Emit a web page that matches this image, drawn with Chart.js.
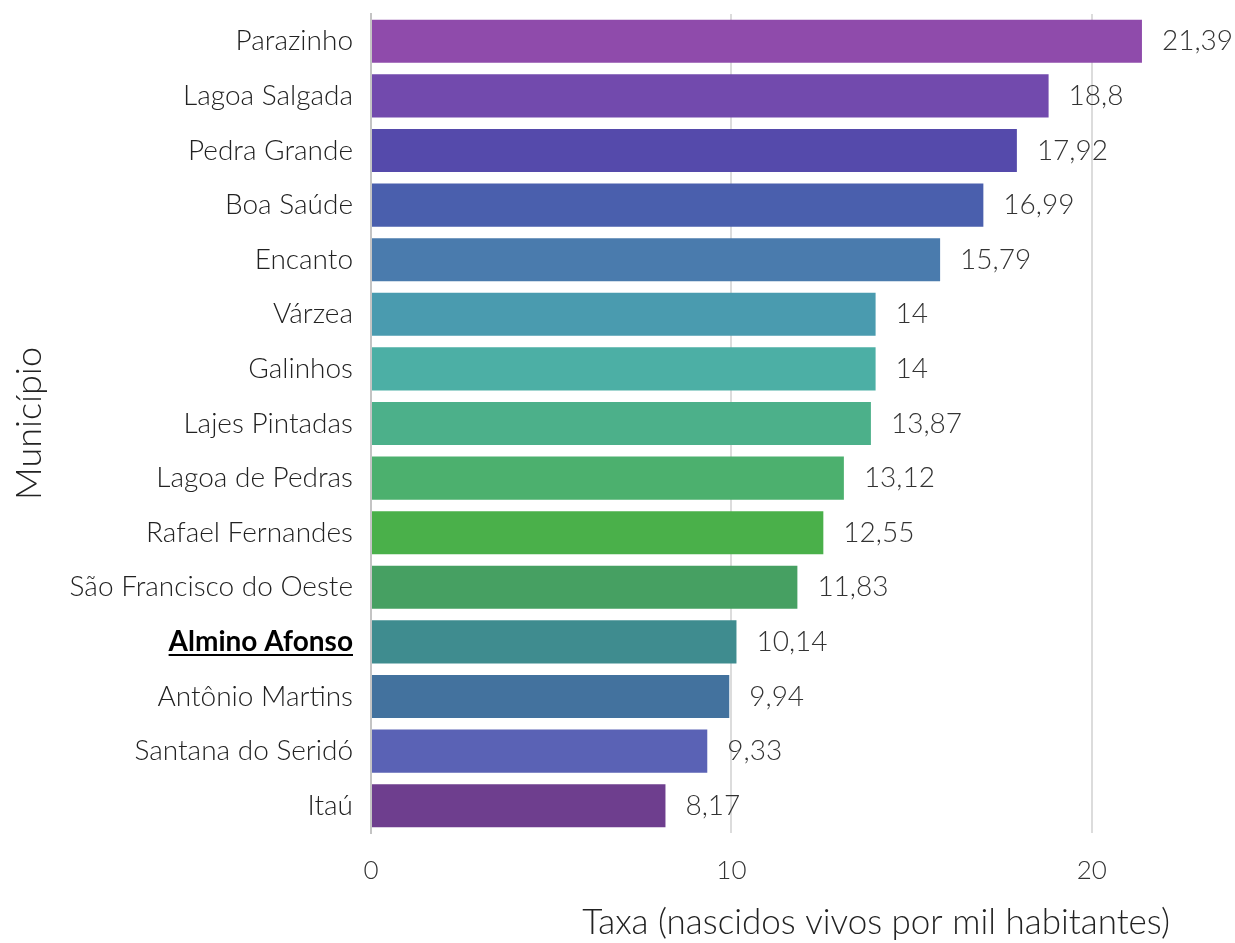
<!DOCTYPE html>
<html>
<head>
<meta charset="utf-8">
<script src="https://cdn.jsdelivr.net/npm/chart.js@4"></script>
<style>
  body { margin: 0; background: #fff; }
</style>
</head>
<body>
<canvas id="canva1" width="1235" height="943"></canvas>
<script>
// dados
const municipios = ["Parazinho", "Lagoa Salgada", "Pedra Grande", "Boa Saúde", "Encanto", "Várzea", "Galinhos",
    "Lajes Pintadas", "Lagoa de Pedras", "Rafael Fernandes", "São Francisco do Oeste", "Almino Afonso",
    "Antônio Martins", "Santana do Seridó", "Itaú"];
const taxas = [21.39, 18.8, 17.92, 16.99, 15.79, 14, 14, 13.87, 13.12, 12.55, 11.83, 10.14, 9.94, 9.33, 8.17];
const rotulos = ["21,39", "18,8", "17,92", "16,99", "15,79", "14", "14", "13,87", "13,12", "12,55", "11,83", "10,14", "9,94", "9,33", "8,17"];
const cores = ["#8f4bab", "#724aad", "#554aab", "#4a5fad", "#4a7bad", "#4a9baf", "#4cafa5", "#4cb08a",
    "#4cb06e", "#4ab04a", "#46a062", "#3f8c8f", "#43729e", "#5a62b5", "#6e3e8e"];
const destaque = "Almino Afonso";
const xTicks = [0, 10, 20];

const fonte = "'Lato Light', Lato";

window.onload = function(){
    let canva1 = document.getElementById("canva1").getContext("2d");

    let rotulosPlugin = {
        id: "rotulos",
        afterDatasetsDraw(chart){
            let ctx = chart.ctx;
            let meta = chart.getDatasetMeta(0);
            ctx.save();
            ctx.font = "300 28px " + fonte;
            ctx.fillStyle = "#333";
            ctx.textAlign = "left";
            ctx.textBaseline = "middle";
            meta.data.forEach(function(bar, i){
                ctx.fillText(rotulos[i], bar.x + 20, bar.y);
            });
            ctx.restore();
        },
        afterDraw(chart){
            let ctx = chart.ctx;
            let y = chart.scales.y;
            let i = municipios.indexOf(destaque);
            ctx.save();
            // sublinhado do destaque
            ctx.font = "700 28px Lato";
            let w = ctx.measureText(destaque).width;
            let xr = chart.chartArea.left - 18;
            let yy = y.getPixelForTick(i) + 13;
            ctx.strokeStyle = "#000";
            ctx.lineWidth = 2;
            ctx.beginPath();
            ctx.moveTo(xr - w, yy);
            ctx.lineTo(xr, yy);
            ctx.stroke();
            // titulo do eixo x
            ctx.font = "300 35px " + fonte;
            ctx.fillStyle = "#222";
            ctx.textAlign = "right";
            ctx.textBaseline = "middle";
            ctx.fillText("Taxa (nascidos vivos por mil habitantes)", chart.chartArea.right - 48, 923);
            ctx.restore();
        }
    };

    let grafico = new Chart(canva1, {
        type: "bar",
        data: {
            labels: municipios,
            datasets: [{
                label: "Taxa",
                data: taxas,
                backgroundColor: cores,
                categoryPercentage: 1,
                barPercentage: 0.79
            }]
        },
        options: {
            indexAxis: "y",
            responsive: false,
            animation: false,
            layout: { padding: { top: 14, right: 17, bottom: 0, left: 0 } },
            plugins: {
                legend: { display: false },
                tooltip: { enabled: false }
            },
            scales: {
                x: {
                    min: 0,
                    max: 23.5,
                    grid: { color: "#dcdcdc", lineWidth: 2, drawTicks: false },
                    border: { display: false },
                    ticks: {
                        stepSize: 10,
                        includeBounds: false,
                        padding: 22,
                        color: "#333",
                        font: { family: fonte, size: 26, weight: 300 }
                    },
                    afterBuildTicks: function(scale){
                        scale.ticks = xTicks.map(function(v){ return { value: v }; });
                    },
                    afterFit: function(scale){
                        scale.height = 110;
                        scale.paddingLeft = 0;
                        scale.paddingRight = 0;
                    },
                    title: { display: false }
                },
                y: {
                    grid: { display: false, drawTicks: false },
                    border: { display: true, color: "#c4c4c4", width: 2 },
                    ticks: {
                        padding: 18,
                        color: function(c){ return municipios[c.index] === destaque ? "#000" : "#222"; },
                        font: function(c){
                            if (municipios[c.index] === destaque) return { family: "Lato", size: 28, weight: 700 };
                            return { family: fonte, size: 28, weight: 300 };
                        }
                    },
                    afterFit: function(scale){
                        scale.width = 371;
                        scale.paddingTop = 0;
                        scale.paddingBottom = 0;
                    },
                    title: {
                        display: true,
                        text: "Município",
                        color: "#222",
                        padding: { top: 8, bottom: 0 },
                        font: { family: fonte, size: 36, weight: 300 }
                    }
                }
            }
        },
        plugins: [rotulosPlugin]
    });
}
</script>
</body>
</html>
